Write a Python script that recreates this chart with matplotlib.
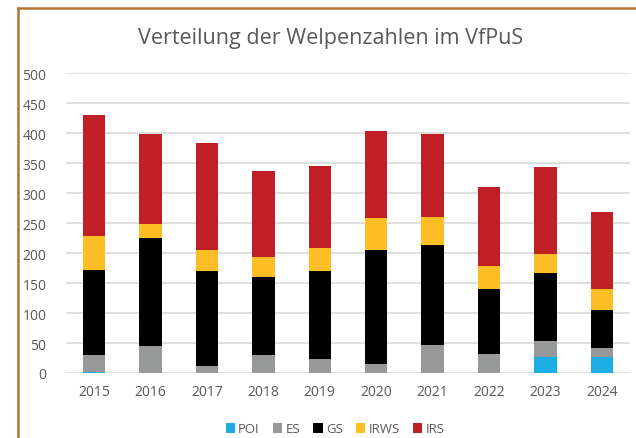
import numpy as np
import matplotlib.pyplot as plt
from matplotlib.lines import Line2D

# ===== Data =====
years = ["2015", "2016", "2017", "2018", "2019", "2020", "2021", "2022", "2023", "2024"]
poi = [2, 0, 0, 0, 0, 0, 0, 0, 26, 26]
es = [28, 45, 12, 30, 23, 15, 47, 32, 27, 16]
gs = [142, 180, 158, 130, 147, 190, 167, 108, 114, 63]
irws = [56, 23, 35, 33, 38, 53, 46, 39, 32, 35]
irs = [202, 150, 179, 144, 137, 146, 138, 131, 144, 129]

series = [("POI", poi, "#1CADE4"),
          ("ES", es, "#979999"),
          ("GS", gs, "#000000"),
          ("IRWS", irws, "#FDBD25"),
          ("IRS", irs, "#C01F25")]

plt.rcParams["font.family"] = ["Open Sans", "DejaVu Sans"]

fig = plt.figure(figsize=(6.36, 4.39), dpi=100)
ax = fig.add_axes([66 / 636, 65 / 439, 564 / 636, 300 / 439])

x = np.arange(len(years))
bottom = np.zeros(len(years))
for name, vals, col in series:
    vals = np.array(vals, dtype=float)
    ax.bar(x, vals, 0.4, bottom=bottom, color=col, label=name, zorder=3)
    bottom += vals

ax.set_xlim(-0.5, len(years) - 0.5)
ax.set_ylim(0, 500)
ax.set_yticks(range(0, 501, 50))
ax.set_xticks(x)
ax.set_xticklabels(years)
ax.grid(axis="y", color="#D9D9D9", linewidth=1.2, zorder=0)
for s in ax.spines.values():
    s.set_visible(False)
ax.tick_params(length=0, labelsize=10, colors="#595959", pad=8)
ax.tick_params(axis="y", pad=14)

fig.text(0.52, 0.913, "Verteilung der Welpenzahlen im VfPuS", ha="center", va="center",
         fontsize=15.5, color="#595959")

ax.legend(loc="center", bbox_to_anchor=(335 / 636, 9 / 439), bbox_transform=fig.transFigure,
          ncol=5, frameon=False, fontsize=9.5, labelcolor="#595959",
          handlelength=0.7, handleheight=0.7, handletextpad=0.25, columnspacing=1.0)

# brown frame (left and top edges of the cropped chart)
frame = "#B87333"
fig.add_artist(Line2D([18 / 636, 18 / 636], [0, 1 - 9 / 439], color=frame, linewidth=1.8,
                      transform=fig.transFigure))
fig.add_artist(Line2D([18 / 636, 1], [1 - 9 / 439, 1 - 9 / 439], color=frame, linewidth=1.8,
                      transform=fig.transFigure))

fig.savefig("out.png", dpi=100)
